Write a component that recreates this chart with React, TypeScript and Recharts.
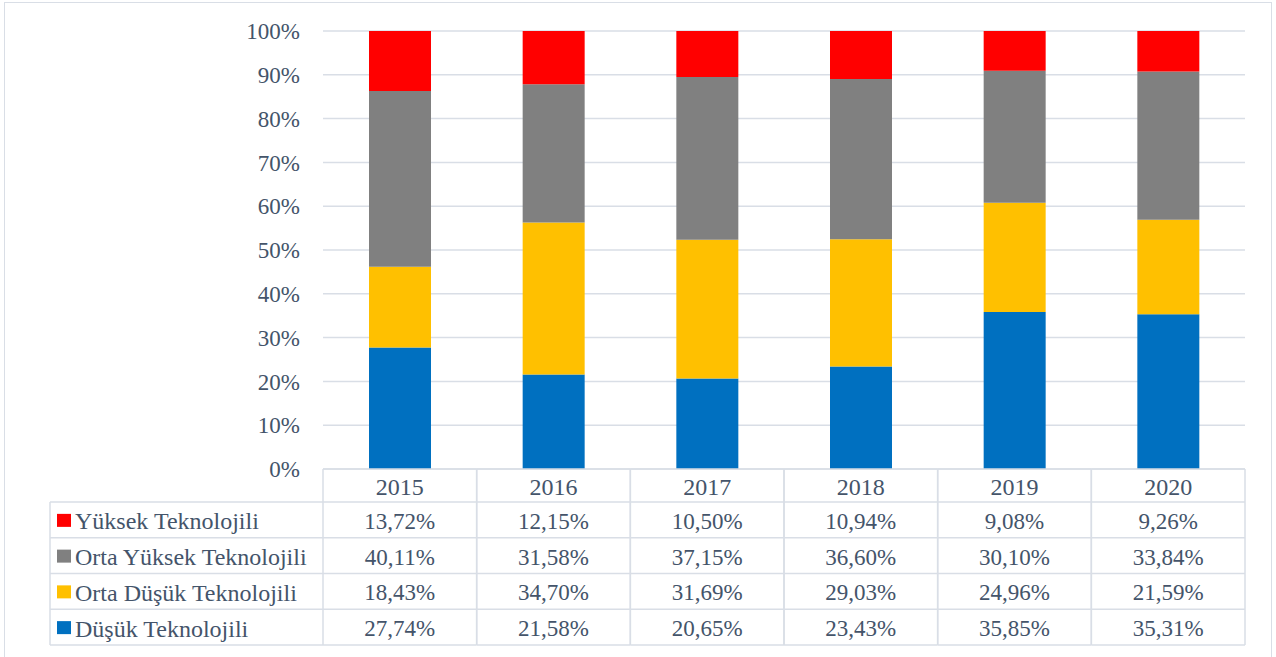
import React from "react";
import { BarChart, Bar, XAxis, YAxis, CartesianGrid } from "recharts";

const years = ["2015", "2016", "2017", "2018", "2019", "2020"];
const yuksek = [13.72, 12.15, 10.5, 10.94, 9.08, 9.26];
const ortaYuksek = [40.11, 31.58, 37.15, 36.6, 30.1, 33.84];
const ortaDusuk = [18.43, 34.7, 31.69, 29.03, 24.96, 21.59];
const dusuk = [27.74, 21.58, 20.65, 23.43, 35.85, 35.31];
const yTicks = [0, 0.1, 0.2, 0.3, 0.4, 0.5, 0.6, 0.7, 0.8, 0.9, 1];

// table rows, top to bottom
const rows = [
  { key: "yuksek", name: "Yüksek Teknolojili", color: "#FF0000", values: yuksek },
  { key: "ortaYuksek", name: "Orta Yüksek Teknolojili", color: "#808080", values: ortaYuksek },
  { key: "ortaDusuk", name: "Orta Düşük Teknolojili", color: "#FFC000", values: ortaDusuk },
  { key: "dusuk", name: "Düşük Teknolojili", color: "#0070C0", values: dusuk },
];

const data = years.map((year, i) => ({
  year,
  yuksek: yuksek[i],
  ortaYuksek: ortaYuksek[i],
  ortaDusuk: ortaDusuk[i],
  dusuk: dusuk[i],
}));

const W = 1276;
const H = 657;
const PLOT_LEFT = 323;
const PLOT_RIGHT = 1245;
const PLOT_TOP = 31;
const PLOT_BOTTOM = 469;
const COL_W = (PLOT_RIGHT - PLOT_LEFT) / years.length;
const HEADER_BOTTOM = 502;
const ROW_H = 35.75;
const LEGEND_LEFT = 50;
const LINE = "#D9DEE6";
const TEXT = "#44546A";
const FONT = "'Liberation Serif', 'Times New Roman', serif";

const fmt = (v: number) => `${v.toFixed(2).replace(".", ",")}%`;

function TableColumn(props: any) {
  const { x, payload, index } = props;
  const left = x - COL_W / 2;
  const right = x + COL_W / 2;
  const bottom = HEADER_BOTTOM + ROW_H * rows.length;
  const hLines = [PLOT_BOTTOM, ...rows.map((_, r) => HEADER_BOTTOM + ROW_H * r), bottom];
  return (
    <g style={{ fontFamily: FONT }} fontSize={23} fill={TEXT}>
      {hLines.map((yy, k) => (
        <line key={"h" + k} x1={left} x2={right} y1={yy} y2={yy} stroke={LINE} strokeWidth={1.5} />
      ))}
      <line x1={left} x2={left} y1={PLOT_BOTTOM} y2={bottom} stroke={LINE} strokeWidth={1.5} />
      <line x1={right} x2={right} y1={PLOT_BOTTOM} y2={bottom} stroke={LINE} strokeWidth={1.5} />
      <text
        x={x}
        y={(PLOT_BOTTOM + HEADER_BOTTOM) / 2 + 1}
        dy="0.35em"
        textAnchor="middle"
        fill={TEXT}
        fontSize={24}
      >
        {payload.value}
      </text>
      {rows.map((row, r) => (
        <text
          key={row.key}
          x={x}
          y={HEADER_BOTTOM + ROW_H * r + ROW_H / 2 + 1}
          dy="0.35em"
          textAnchor="middle"
          fill={TEXT}
        >
          {fmt(row.values[index])}
        </text>
      ))}
      {index === 0 && (
        <g>
          {[...rows.map((_, r) => HEADER_BOTTOM + ROW_H * r), bottom].map((yy, k) => (
            <line key={"lh" + k} x1={LEGEND_LEFT} x2={left} y1={yy} y2={yy} stroke={LINE} strokeWidth={1.5} />
          ))}
          <line x1={LEGEND_LEFT} x2={LEGEND_LEFT} y1={HEADER_BOTTOM} y2={bottom} stroke={LINE} strokeWidth={1.5} />
          {rows.map((row, r) => {
            const cy = HEADER_BOTTOM + ROW_H * r + ROW_H / 2;
            return (
              <g key={"lg" + row.key}>
                <rect x={57} y={cy - 6} width={14} height={13} fill={row.color} />
                <text x={75} y={cy + 1} dy="0.35em" textAnchor="start" fill={TEXT} fontSize={24}>
                  {row.name}
                </text>
              </g>
            );
          })}
        </g>
      )}
    </g>
  );
}

export default function App() {
  return (
    <div style={{ position: "absolute", left: 0, top: 0, width: W, height: H, overflow: "hidden", background: "#fff" }}>
      <div
        style={{
          position: "absolute",
          left: 4,
          top: 2,
          width: 1268,
          height: 720,
          border: `1.5px solid ${LINE}`,
          boxSizing: "border-box",
        }}
      />
      <BarChart
        width={W}
        height={H}
        data={data}
        stackOffset="expand"
        margin={{ top: PLOT_TOP, right: W - PLOT_RIGHT, left: 0, bottom: 0 }}
        style={{ position: "absolute", left: 0, top: 0 }}
      >
        <CartesianGrid vertical={false} stroke={LINE} strokeWidth={1.5} />
        <XAxis
          dataKey="year"
          height={H - PLOT_BOTTOM}
          axisLine={false}
          tickLine={false}
          interval={0}
          tick={<TableColumn />}
        />
        <YAxis
          width={PLOT_LEFT}
          domain={[0, 1]}
          ticks={yTicks}
          axisLine={false}
          tickLine={false}
          tickMargin={17}
          tickFormatter={(v: number) => `${Math.round(v * 100)}%`}
          tick={{ fontFamily: FONT, fontSize: 23, fill: TEXT }}
        />
        {[...rows].reverse().map((row) => (
          <Bar
            key={row.key}
            dataKey={row.key}
            name={row.name}
            stackId="a"
            fill={row.color}
            barSize={62}
            isAnimationActive={false}
          />
        ))}
      </BarChart>
    </div>
  );
}
